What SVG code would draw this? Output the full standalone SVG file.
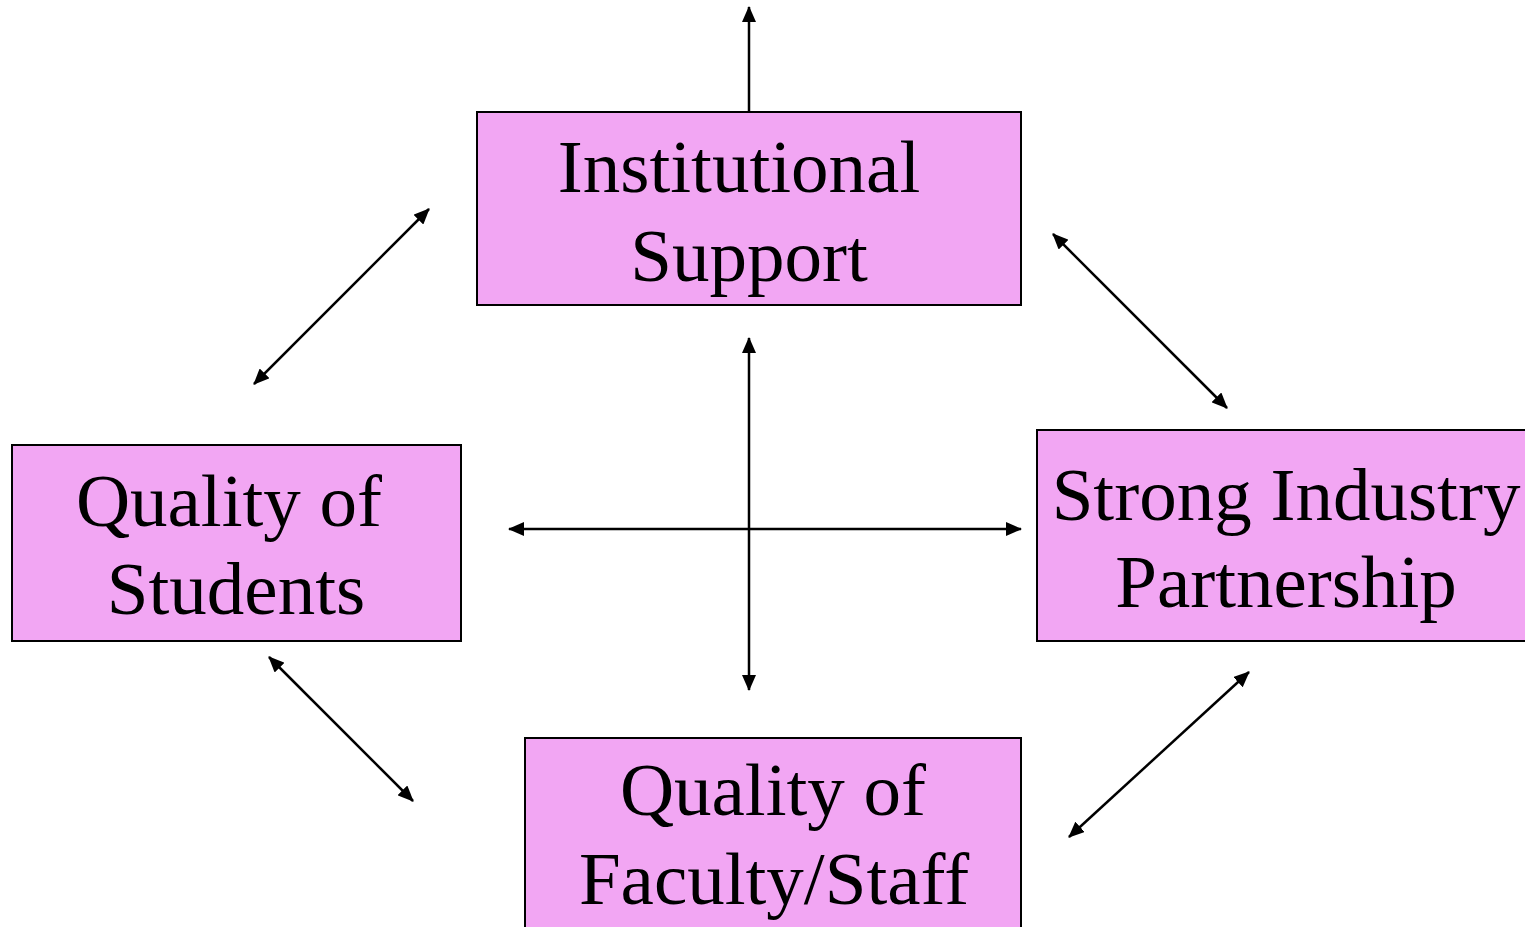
<svg xmlns="http://www.w3.org/2000/svg" width="1525" height="927" viewBox="0 0 1525 927">
  <style>
    .box { fill: #F2A6F3; stroke: #000; stroke-width: 2; }
    .lbl { font-family: "Liberation Serif", "Times New Roman", serif; font-size: 75px; fill: #000; text-anchor: middle; }
    .link { stroke: #000; stroke-width: 2.5; fill: none; }
  </style>
  <defs>
    <marker id="head" viewBox="0 0 16 14" refX="15" refY="7" markerWidth="16" markerHeight="14" markerUnits="userSpaceOnUse" orient="auto-start-reverse">
      <path d="M0,0 L16,7 L0,14 Z" fill="#000"/>
    </marker>
  </defs>

  <rect width="1525" height="927" fill="#fff"/>

  <g id="connectors">
    <line class="link" x1="749" y1="118" x2="749" y2="7" marker-end="url(#head)"/>
    <line class="link" x1="254" y1="384" x2="429" y2="209" marker-start="url(#head)" marker-end="url(#head)"/>
    <line class="link" x1="1053" y1="234" x2="1227" y2="408" marker-start="url(#head)" marker-end="url(#head)"/>
    <line class="link" x1="749" y1="338" x2="749" y2="690" marker-start="url(#head)" marker-end="url(#head)"/>
    <line class="link" x1="509" y1="529" x2="1021" y2="529" marker-start="url(#head)" marker-end="url(#head)"/>
    <line class="link" x1="269" y1="657" x2="413" y2="801" marker-start="url(#head)" marker-end="url(#head)"/>
    <line class="link" x1="1249" y1="672" x2="1069" y2="837" marker-start="url(#head)" marker-end="url(#head)"/>
  </g>

  <g id="institutional-support">
    <rect class="box" x="477" y="112" width="544" height="193"/>
    <text class="lbl" x="739" y="192">Institutional</text>
    <text class="lbl" x="749" y="281">Support</text>
  </g>

  <g id="quality-of-students">
    <rect class="box" x="12" y="445" width="449" height="196"/>
    <text class="lbl" x="229" y="526">Quality of</text>
    <text class="lbl" x="236" y="614">Students</text>
  </g>

  <g id="strong-industry-partnership">
    <rect class="box" x="1037" y="430" width="500" height="211"/>
    <text class="lbl" x="1286" y="520">Strong Industry</text>
    <text class="lbl" x="1286" y="607">Partnership</text>
  </g>

  <g id="quality-of-faculty-staff">
    <rect class="box" x="525" y="738" width="496" height="200"/>
    <text class="lbl" x="773" y="815">Quality of</text>
    <text class="lbl" x="774" y="904">Faculty/Staff</text>
  </g>
</svg>
